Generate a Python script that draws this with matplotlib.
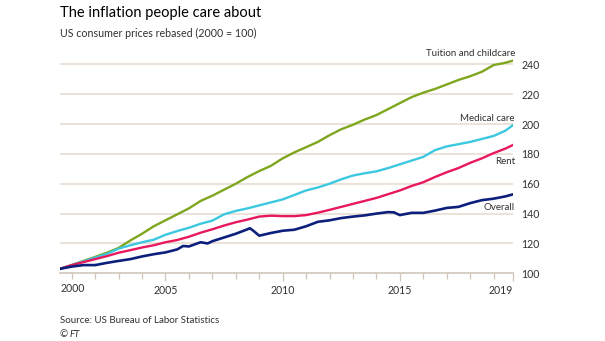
import matplotlib
matplotlib.use("Agg")
import matplotlib.pyplot as plt
from matplotlib.ticker import FixedLocator, NullFormatter

plt.rcParams["font.family"] = ["Lato", "DejaVu Sans"]

# Consumer price indices, 2000 = 100, sampled every half year
years = [2000.5, 2001.0, 2001.5, 2002.0, 2002.5, 2003.0, 2003.5, 2004.0, 2004.5,
         2005.0, 2005.5, 2006.0, 2006.5, 2007.0, 2007.5, 2008.0, 2008.5, 2009.0,
         2009.5, 2010.0, 2010.5, 2011.0, 2011.5, 2012.0, 2012.5, 2013.0, 2013.5,
         2014.0, 2014.5, 2015.0, 2015.5, 2016.0, 2016.5, 2017.0, 2017.5, 2018.0,
         2018.5, 2019.0, 2019.5, 2019.83]

tuition = [103, 105.5, 108.3, 111, 113.8, 117, 122, 126.5, 131.5,
           135.5, 139.5, 143.5, 148.5, 152, 156, 160, 164.5, 168.5,
           172, 177, 181, 184.5, 188, 192.5, 196.5, 199.5, 203,
           206, 210, 214, 218, 221, 223.5, 226.5, 229.5, 232,
           235, 239.5, 241, 242.5]

medical = [103, 105.5, 108, 110.5, 113, 116.5, 118.8, 120.8, 122.5,
           125.8, 128.3, 130.5, 133.2, 135.3, 139.5, 141.8, 143.5, 145.5,
           147.5, 149.5, 152.5, 155.5, 157.5, 160, 163, 165.5, 167,
           168.3, 170.5, 173, 175.5, 178, 182.5, 185, 186.5, 188,
           190, 192, 195.5, 199.3]

rent = [103, 105.5, 107.5, 109.5, 111.5, 113.8, 115.5, 117.3, 118.8,
        120.8, 122.3, 124.5, 127.2, 129.5, 132, 134.2, 136, 138,
        138.6, 138.3, 138.3, 139, 140.6, 142.5, 144.5, 146.5, 148.5,
        150.5, 153, 155.5, 158.5, 161, 164.5, 167.7, 170.5, 174,
        177, 180.5, 183.5, 186]

# Overall index has a few extra points around the 2005 and 2008 swings
overall_years = [2000.5, 2001.0, 2001.5, 2002.0, 2002.5, 2003.0, 2003.5, 2004.0,
                 2004.5, 2005.0, 2005.5, 2005.75, 2006.0, 2006.5, 2006.8, 2007.0,
                 2007.5, 2008.0, 2008.5, 2008.6, 2008.75, 2009.0, 2009.5, 2010.0,
                 2010.5, 2011.0, 2011.5, 2012.0, 2012.5, 2013.0, 2013.5, 2014.0,
                 2014.5, 2014.75, 2015.0, 2015.5, 2016.0, 2016.5, 2017.0, 2017.5,
                 2018.0, 2018.5, 2019.0, 2019.5, 2019.83]
overall = [103, 104.5, 105.5, 105.5, 107, 108.3, 109.5, 111.3,
           112.8, 114, 116, 118.3, 118, 120.8, 120, 121.5,
           124, 126.5, 129.5, 130.2, 128.5, 125.2, 127, 128.5,
           129.2, 131.5, 134.5, 135.5, 137, 138, 138.8, 140,
           141, 140.8, 139, 140.5, 140.5, 142, 143.8, 144.5,
           147, 149, 150, 151.5, 152.9]

series_names = ["Tuition and childcare", "Medical care", "Rent", "Overall"]
series_colors = ["#7fa61f", "#3cc8e0", "#e8185d", "#0d1f7c"]

y_ticks = [100, 120, 140, 160, 180, 200, 220, 240]
x_major = [2005, 2010, 2015]
x_minor = list(range(2001, 2020))

text_col = "#33302e"
grid_col = "#e8ddd3"

fig = plt.figure(figsize=(6.05, 3.41), dpi=100)
ax = fig.add_axes([0.0992, 0.1985, 0.7488, 0.6348])

x0, x1 = years[0], years[-1]
ax.set_xlim(x0, x1)
ax.set_ylim(100, 245)

for yv in y_ticks[1:]:
    ax.axhline(yv, color=grid_col, lw=1.2, zorder=0)

ax.plot(years, tuition, color=series_colors[0], lw=1.7, zorder=3)
ax.plot(years, medical, color=series_colors[1], lw=1.7, zorder=3)
ax.plot(years, rent, color=series_colors[2], lw=1.7, zorder=3)
ax.plot(overall_years, overall, color=series_colors[3], lw=1.9, zorder=4)

for s in ["top", "left", "right"]:
    ax.spines[s].set_visible(False)
ax.spines["bottom"].set_color("#cfc5bb")
ax.spines["bottom"].set_linewidth(1.2)

# x axis: yearly minor ticks, labelled majors, plus end labels
ax.xaxis.set_major_locator(FixedLocator(x_major + [x1]))
ax.set_xticklabels([str(v) for v in x_major] + ["2019"])
ax.xaxis.set_minor_locator(FixedLocator(x_minor))
ax.xaxis.set_minor_formatter(NullFormatter())
ax.tick_params(axis="x", which="major", length=5.5, width=0.9, color="#cfc5bb",
               labelsize=7.6, labelcolor=text_col, pad=3)
ax.tick_params(axis="x", which="minor", length=4, width=0.9, color="#cfc5bb")
ax.xaxis.get_majorticklabels()[-1].set_ha("right")
ax.text(x0 + 0.02, -0.045, "2000", transform=ax.get_xaxis_transform(),
        ha="left", va="top", fontsize=7.6, color=text_col)

# y axis on the right
ax.yaxis.tick_right()
ax.set_yticks(y_ticks)
ax.tick_params(axis="y", length=0, labelsize=7.6, labelcolor=text_col, pad=6)

# series labels at the right end of each line
label_y = [247.5, 203.5, 175, 144.3]
for name, yv in zip(series_names, label_y):
    ax.text(x1 + 0.08, yv, name, ha="right", va="center", fontsize=7,
            color=text_col, clip_on=False, zorder=5)

fig.text(0.0992, 0.963, "The inflation people care about", ha="left",
         va="center", fontsize=10.5, color="#000000")
fig.text(0.0992, 0.903, "US consumer prices rebased (2000 = 100)", ha="left",
         va="center", fontsize=7.7, color=text_col)
fig.text(0.0992, 0.06, "Source: US Bureau of Labor Statistics", ha="left",
         va="center", fontsize=7, color=text_col)
fig.text(0.0992, 0.02, "\u00a9 ", ha="left", va="center", fontsize=7,
         color=text_col)
fig.text(0.0992 + 0.016, 0.02, "FT", ha="left", va="center", fontsize=7,
         color=text_col, style="italic")

fig.savefig("out.png", dpi=100, facecolor="white")
